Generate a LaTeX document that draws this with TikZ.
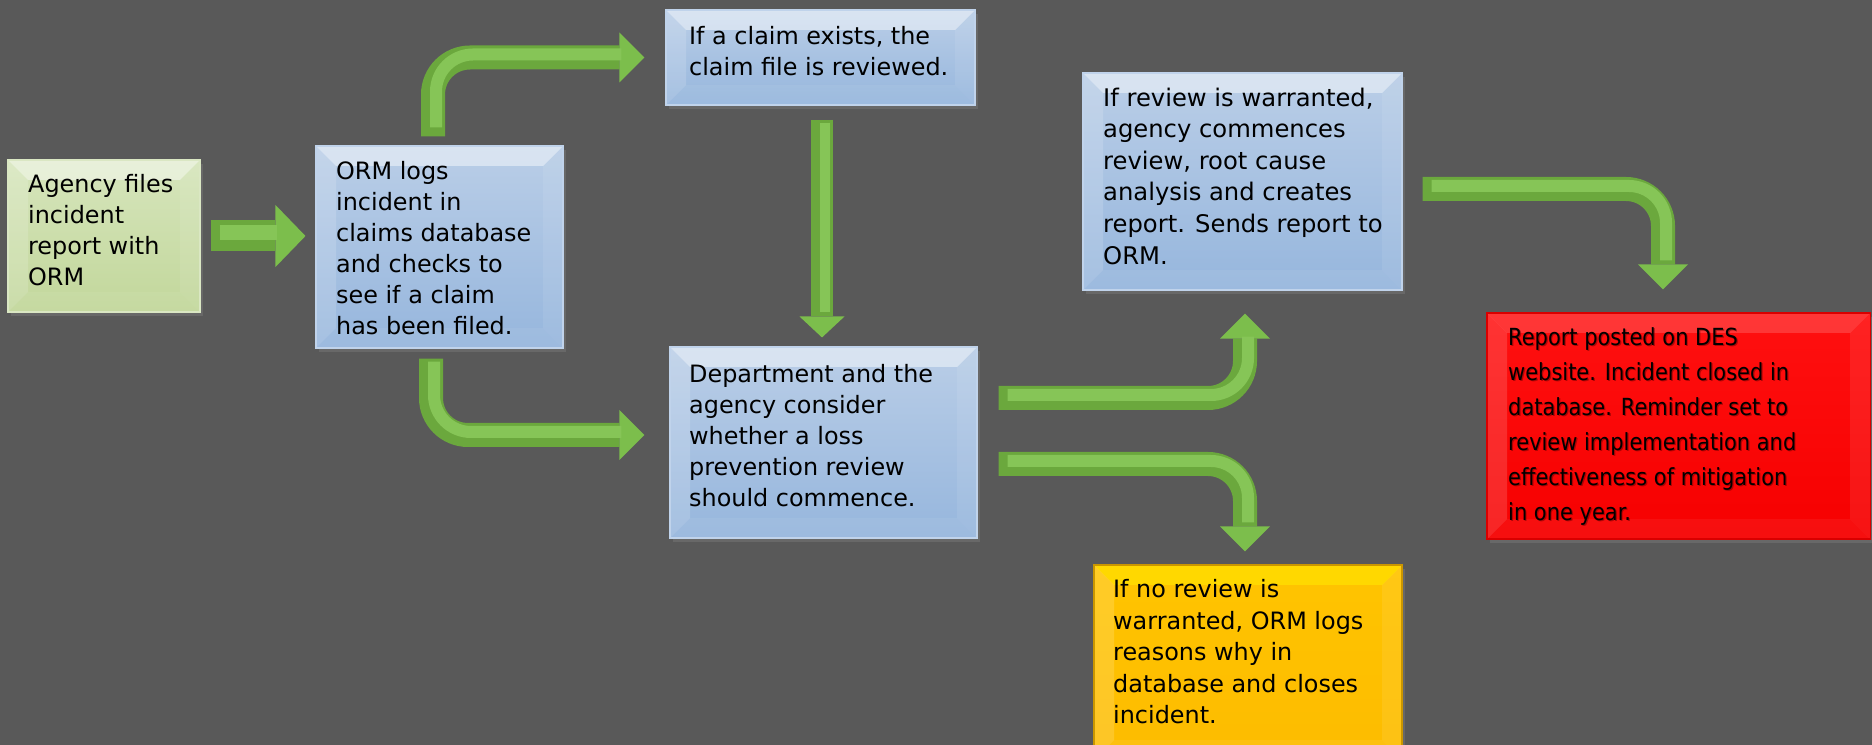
\documentclass[tikz,border=0pt]{standalone}
\usepackage{fontspec}
\setmainfont{DejaVu Sans}
\newfontfamily\condfont[FakeStretch=0.89]{DejaVu Sans}
\usetikzlibrary{arrows.meta,fit,calc,shadows}
\definecolor{bg}{HTML}{595959}
\definecolor{blueT}{HTML}{BACEE7}
\definecolor{blueB}{HTML}{96B6DD}
\definecolor{greenT}{HTML}{D6E5BC}
\definecolor{greenB}{HTML}{C2D79B}
\definecolor{redT}{HTML}{FF1010}
\definecolor{redB}{HTML}{F60000}
\definecolor{yelT}{HTML}{FFC400}
\definecolor{yelB}{HTML}{FDBC00}
\definecolor{agreen}{HTML}{6BA83D}
\definecolor{alight}{HTML}{86C557}
\definecolor{atip}{HTML}{7CBE4C}
\tikzset{
  boxbase/.style={inner sep=0pt, line width=0.3pt,
    drop shadow={shadow xshift=0.3mm, shadow yshift=-0.4mm, opacity=.4}},
  bevel/.style 2 args={path picture={
    \fill[#2,opacity=.45] (path picture bounding box.north west) -- (path picture bounding box.north east)
      -- ([xshift=-#1,yshift=-#1]path picture bounding box.north east) -- ([xshift=#1,yshift=-#1]path picture bounding box.north west) -- cycle;
    \fill[white,opacity=.15] (path picture bounding box.north west) -- ([xshift=#1,yshift=-#1]path picture bounding box.north west)
      -- ([xshift=#1,yshift=#1]path picture bounding box.south west) -- (path picture bounding box.south west) -- cycle;
    \fill[white,opacity=.08] (path picture bounding box.north east) -- ([xshift=-#1,yshift=-#1]path picture bounding box.north east)
      -- ([xshift=-#1,yshift=#1]path picture bounding box.south east) -- (path picture bounding box.south east) -- cycle;
    \fill[white,opacity=.06] (path picture bounding box.south west) -- ([xshift=#1,yshift=#1]path picture bounding box.south west)
      -- ([xshift=-#1,yshift=#1]path picture bounding box.south east) -- (path picture bounding box.south east) -- cycle;
  }},
  bluebox/.style={boxbase, top color=blueT, bottom color=blueB, draw=blueB!60!white, bevel={2mm}{white}},
  greenbox/.style={boxbase, top color=greenT, bottom color=greenB, draw=greenB!60!white, bevel={2mm}{white}},
  redbox/.style={boxbase, top color=redT, bottom color=redB, draw=red!85!black, bevel={2mm}{red!60!white}},
  yelbox/.style={boxbase, top color=yelT, bottom color=yelB, draw=yelB!80!black, bevel={2mm}{yellow}},
  txt/.style={anchor=north west, inner sep=0pt, align=left, text=black,
    font=\fontsize{6.8pt}{8.8pt}\selectfont},
  redtxt/.style={txt, font=\condfont\fontsize{6.7pt}{9.96pt}\selectfont},
  arr/.style={draw=agreen, line width=2.4mm, rounded corners=3.7mm,
    -{Triangle[width=5mm,length=2.5mm,line width=0pt,fill=atip]}},
  hl/.style={draw=alight, line width=1.2mm, rounded corners=3.7mm, shorten >=2.6mm, shorten <=0.6mm,
    transform canvas={shift={(0.3mm,0.3mm)}}},
}
\begin{document}
\begin{tikzpicture}[x=0.1mm,y=-0.1mm]
\useasboundingbox (0,0) rectangle (1872,745);
\fill[bg] (0,0) rectangle (1872,745);

% boxes
\node[greenbox, fit={(8,160) (200,312)}] (b1) {};
\node[bluebox,  fit={(316,146) (563,348)}] (b2) {};
\node[bluebox,  fit={(666,10) (975,105)}] (b3) {};
\node[bluebox,  fit={(670,347) (977,538)}] (b4) {};
\node[bluebox,  fit={(1083,73) (1402,290)}] (b5) {};
\node[yelbox,   fit={(1094,565) (1402,760)}] (b6) {};
\node[redbox,   fit={(1487,313) (1870,539)}] (b7) {};

% texts
\node[txt] (t1) at ([xshift=2mm,yshift=-1.45mm]b1.north west)
  {Agency files\\incident\\report with\\ORM};
\node[txt] (t2) at ([xshift=2mm,yshift=-1.55mm]b2.north west)
  {ORM logs\\incident in\\claims database\\and checks to\\see if a claim\\has been filed.};
\node[txt] (t3) at ([xshift=2.3mm,yshift=-1.65mm]b3.north west)
  {If a claim exists, the\\claim file is reviewed.};
\node[txt] (t4) at ([xshift=1.9mm,yshift=-1.75mm]b4.north west)
  {Department and the\\agency consider\\whether a loss\\prevention review\\should commence.};
\node[txt, font=\fontsize{6.9pt}{9pt}\selectfont] (t5) at ([xshift=2mm,yshift=-1.45mm]b5.north west)
  {If review is warranted,\\agency commences\\review, root cause\\analysis and creates\\report. Sends report to\\ORM.};
\node[txt, font=\fontsize{6.8pt}{8.97pt}\selectfont] (t6) at ([xshift=1.9mm,yshift=-1.45mm]b6.north west)
  {If no review is\\warranted, ORM logs\\reasons why in\\database and closes\\incident.};
\node[redtxt, text=black!60!red, opacity=.5] (t7s) at ([xshift=2.22mm,yshift=-1.57mm]b7.north west)
  {Report posted on DES\\website. Incident closed in\\database. Reminder set to\\review implementation and\\effectiveness of mitigation\\in one year.};
\node[redtxt] (t7) at ([xshift=2.1mm,yshift=-1.45mm]b7.north west)
  {Report posted on DES\\website. Incident closed in\\database. Reminder set to\\review implementation and\\effectiveness of mitigation\\in one year.};

% connector end points
\coordinate (a1s) at ([xshift=1mm]b1.east);
\coordinate (a1e) at ([xshift=-1mm]b2.west);
\coordinate (a2s) at ([xshift=-0.65mm,yshift=0.9mm]b2.north);
\coordinate (a2e) at ([xshift=-2.1mm]b3.west);
\coordinate (a3s) at ([xshift=-0.85mm,yshift=-1mm]b2.south);
\coordinate (a3e) at ([xshift=-2.5mm,yshift=0.75mm]b4.west);
\coordinate (a4s) at ([xshift=0.15mm,yshift=-1.4mm]b3.south);
\coordinate (a4e) at ([xshift=-0.2mm,yshift=0.9mm]b4.north);
\coordinate (a5s) at ([xshift=2.1mm,yshift=4.45mm]b4.east);
\coordinate (a5e) at ([xshift=0.25mm,yshift=-2.3mm]b5.south);
\coordinate (a6s) at ([xshift=2.1mm,yshift=-2.15mm]b4.east);
\coordinate (a6e) at ([xshift=-0.3mm,yshift=1.3mm]b6.north);
\coordinate (a7s) at ([xshift=2mm,yshift=-0.75mm]b5.east);
\coordinate (a7e) at ([xshift=-1.55mm,yshift=2.3mm]b7.north);

% connectors
\draw[arr, line width=3.1mm, -{Triangle[width=6.2mm,length=3mm,line width=0pt,fill=atip]}] (a1s) -- (a1s -| a1e);
\draw[hl, line width=1.5mm, shorten >=3.1mm] (a1s) -- (a1s -| a1e);
\draw[arr] (a2s) |- (a2e);  \draw[hl] (a2s) |- (a2e);
\draw[arr] (a3s) |- (a3e);  \draw[hl] (a3s) |- (a3e);
\draw[arr, line width=2.2mm, -{Triangle[width=4.5mm,length=2.1mm,line width=0pt,fill=atip]}] (a4s) -- (a4s |- a4e);
\draw[hl, line width=1mm, shorten >=2.2mm] (a4s) -- (a4s |- a4e);
\draw[arr] (a5s) -| (a5e);  \draw[hl] (a5s) -| (a5e);
\draw[arr] (a6s) -| (a6e);  \draw[hl] (a6s) -| (a6e);
\draw[arr] (a7s) -| (a7e);  \draw[hl] (a7s) -| (a7e);
\end{tikzpicture}
\end{document}
